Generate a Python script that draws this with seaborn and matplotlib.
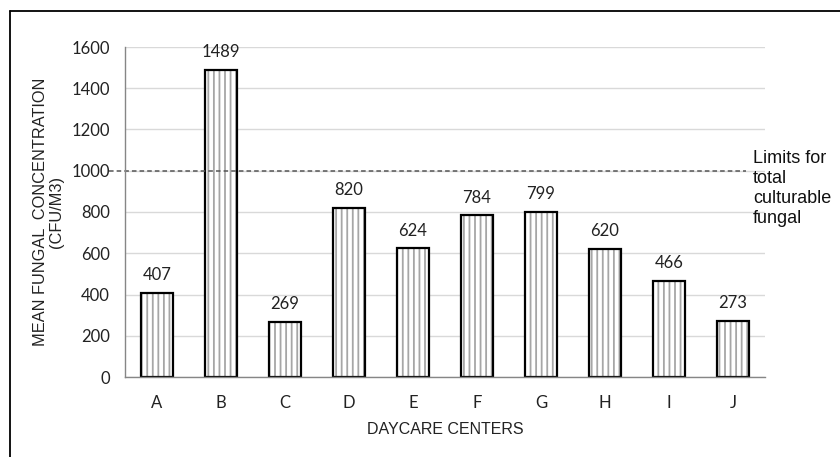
import matplotlib
matplotlib.use('Agg')
import matplotlib.pyplot as plt
from matplotlib.lines import Line2D
import seaborn as sns
import pandas as pd

centers = ['A', 'B', 'C', 'D', 'E', 'F', 'G', 'H', 'I', 'J']
concentration = [407, 1489, 269, 820, 624, 784, 799, 620, 466, 273]
limit_value = 1000
limit_text = 'Limits for\ntotal\nculturable\nfungal'

df = pd.DataFrame({'center': centers, 'conc': concentration})

sns.set_theme(style='white')
plt.rcParams['font.family'] = ['Lato', 'DejaVu Sans']
plt.rcParams['hatch.linewidth'] = 1.3

fig = plt.figure(figsize=(8.4, 4.57), dpi=100)
ax = fig.add_axes([125 / 840, 1 - 377 / 457, 640 / 840, 330 / 457])

# hatch fill first, then black outline on top
sns.barplot(data=df, x='center', y='conc', color='white', edgecolor='#a6a6a6',
            linewidth=0, hatch='|||', width=0.5, ax=ax)
sns.barplot(data=df, x='center', y='conc', fill=False, edgecolor='black',
            linewidth=1.6, width=0.5, ax=ax)
ax.bar_label(ax.containers[1], fmt='%d', padding=7, fontsize=12, color='#222222')

ax.set_ylim(0, 1600)
ax.set_xlim(-0.5, 9.5)
ax.set_yticks(range(0, 1601, 200))
ax.yaxis.grid(True, color='#d9d9d9', linewidth=1)
ax.set_axisbelow(True)
for s in ['top', 'right']:
    ax.spines[s].set_visible(False)
for s in ['left', 'bottom']:
    ax.spines[s].set_color('#868686')
    ax.spines[s].set_linewidth(1)
ax.tick_params(axis='y', direction='in', length=5, width=1, color='#868686',
               labelsize=12, labelcolor='#222222', pad=11)
ax.tick_params(axis='x', length=0, labelsize=12, labelcolor='#222222', pad=13)

ax.plot([-0.025, 0.97], [limit_value, limit_value], transform=ax.get_yaxis_transform(),
        linestyle=(0, (3, 2)), color='#555555', linewidth=1.1, clip_on=False)
ax.text(0.981, 1103, limit_text, transform=ax.get_yaxis_transform(),
        fontsize=13, family='Liberation Sans', va='top', ha='left',
        linespacing=1.25, color='#111111')

ax.set_xlabel('DAYCARE CENTERS', family='Liberation Sans', fontsize=11.5,
              labelpad=8, color='#222222')
ax.set_ylabel('MEAN FUNGAL  CONCENTRATION\n(CFU/M3)', family='Liberation Sans',
              fontsize=11.8, labelpad=5, color='#222222', linespacing=1.1)

# frame around the image (top and left edges visible)
fig.add_artist(Line2D([9.5 / 840, 1], [1 - 11 / 457, 1 - 11 / 457], color='black',
                      linewidth=1.3, transform=fig.transFigure))
fig.add_artist(Line2D([9.5 / 840, 9.5 / 840], [0, 1 - 11 / 457], color='black',
                      linewidth=1.3, transform=fig.transFigure))

fig.savefig('out.png', dpi=100, facecolor='white')
plt.close()
